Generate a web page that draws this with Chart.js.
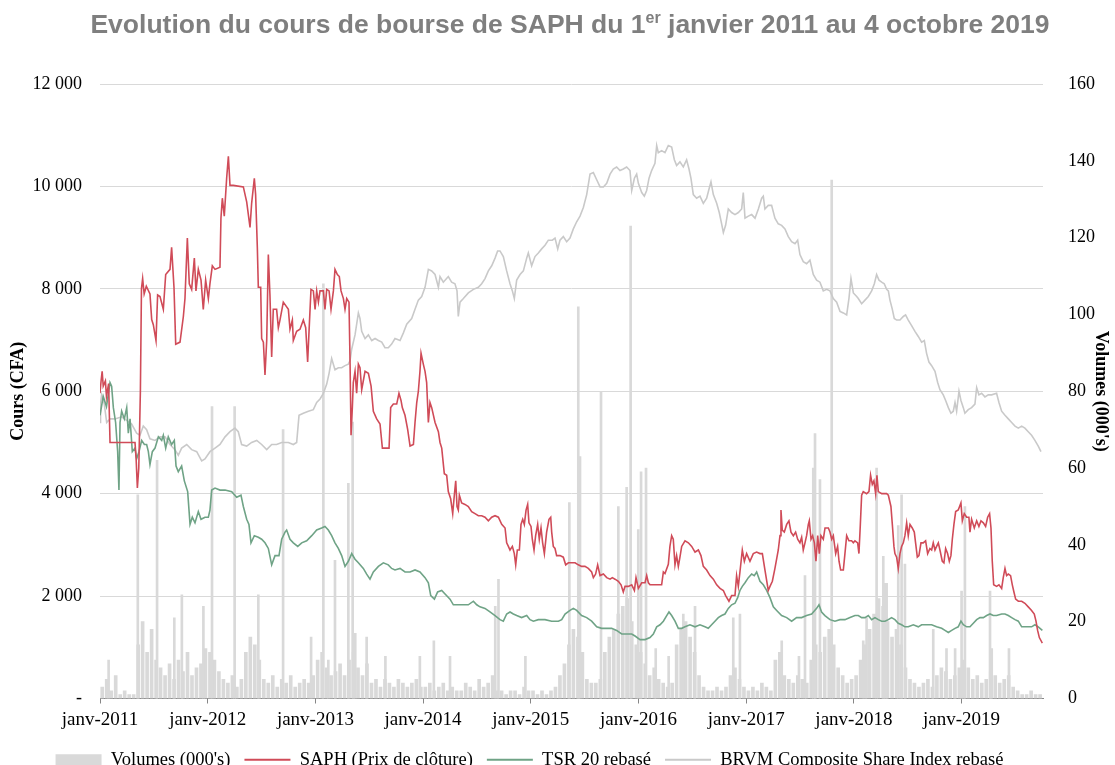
<!DOCTYPE html>
<html lang="fr">
<head>
<meta charset="UTF-8">
<title>Evolution du cours de bourse de SAPH</title>
<script src="https://cdn.jsdelivr.net/npm/chart.js"></script>
<style>
    body { margin: 0; background: #fff; }
    #wrap { position: relative; width: 1115px; height: 765px; }
    #title {
        position: absolute; left: 0; top: 10px; width: 1140px; text-align: center;
        font: bold 26.5px "Liberation Sans", Arial, sans-serif; color: #7f7f7f; line-height: 28px;
    }
    #title sup { font-size: 16px; line-height: 0; }
</style>
</head>
<body>
<div id="wrap">
    <canvas id="chart" width="1115" height="765"></canvas>
    <div id="title">Evolution du cours de bourse de SAPH du 1<sup>er</sup> janvier 2011 au 4 octobre 2019</div>
</div>

<script>
    // dates are decimal years (2011.0 = 1 Jan 2011)
    const yearTicks = ['janv-2011', 'janv-2012', 'janv-2013', 'janv-2014', 'janv-2015', 'janv-2016', 'janv-2017', 'janv-2018', 'janv-2019'];

    // SAPH closing price (CFA)
    const saphPrices = [
        [2011.00,5960],[2011.01,6200],[2011.02,6390],[2011.03,6100],[2011.05,6200],[2011.06,5900],[2011.08,6150],[2011.093,5000],
        [2011.325,5000],[2011.335,4700],[2011.347,4110],[2011.36,4500],[2011.365,5000],[2011.375,6000],[2011.385,8000],[2011.396,8200],
        [2011.41,7900],[2011.43,8050],[2011.464,7900],[2011.48,7400],[2011.495,7300],[2011.52,6990],[2011.535,7880],[2011.557,7850],
        [2011.588,7600],[2011.61,8280],[2011.65,8380],[2011.665,8810],[2011.687,8030],[2011.703,6920],[2011.743,6960],[2011.774,7460],
        [2011.789,7810],[2011.811,8990],[2011.829,8100],[2011.851,7990],[2011.876,8600],[2011.891,7960],[2011.913,8380],[2011.938,8170],
        [2011.959,7600],[2011.981,8170],[2012.006,7810],[2012.021,8100],[2012.043,8450],[2012.068,8380],[2012.114,8420],[2012.123,9380],
        [2012.136,9770],[2012.154,9420],[2012.176,10160],[2012.192,10590],[2012.207,10020],[2012.238,10020],[2012.331,9990],[2012.362,9700],
        [2012.393,9200],[2012.408,9670],[2012.433,10160],[2012.445,9840],[2012.461,8800],[2012.47,8030],[2012.492,8030],[2012.501,7030],
        [2012.517,6960],[2012.532,6320],[2012.548,6990],[2012.563,8670],[2012.578,7880],[2012.594,6670],[2012.609,7600],[2012.64,7600],
        [2012.656,7240],[2012.671,7390],[2012.702,7740],[2012.749,7600],[2012.764,7210],[2012.786,7390],[2012.795,6990],[2012.826,7170],
        [2012.857,7210],[2012.888,7390],[2012.91,7240],[2012.928,6570],[2012.941,7170],[2012.959,7990],[2012.981,7960],[2012.997,7600],
        [2013.012,7960],[2013.028,7740],[2013.043,7960],[2013.074,7960],[2013.089,7600],[2013.105,7990],[2013.127,7960],[2013.145,7600],
        [2013.167,7960],[2013.182,8380],[2013.204,8280],[2013.222,8240],[2013.238,7960],[2013.26,7810],[2013.275,7600],[2013.291,7810],
        [2013.312,7740],[2013.322,6530],[2013.331,5140],[2013.343,5680],[2013.352,6170],[2013.368,6390],[2013.383,5960],[2013.399,6530],
        [2013.414,6460],[2013.43,6030],[2013.461,6390],[2013.492,6350],[2013.517,6100],[2013.538,5610],[2013.569,5460],[2013.6,5360],
        [2013.622,4890],[2013.646,4890],[2013.684,4890],[2013.699,5680],[2013.724,5750],[2013.755,5750],[2013.776,5960],[2013.795,5820],
        [2013.807,5680],[2013.832,5530],[2013.857,5250],[2013.879,4930],[2013.91,4960],[2013.925,5390],[2013.941,5780],[2013.956,6000],
        [2013.971,6390],[2013.981,6740],[2014.002,6530],[2014.018,6390],[2014.033,6170],[2014.049,5390],[2014.064,5780],[2014.08,5680],
        [2014.111,5390],[2014.142,5210],[2014.157,5000],[2014.173,4890],[2014.197,4390],[2014.219,4360],[2014.234,4040],[2014.256,3900],
        [2014.275,3610],[2014.29,3970],[2014.303,4250],[2014.315,3750],[2014.327,3680],[2014.337,3970],[2014.358,3820],[2014.389,3790],
        [2014.42,3750],[2014.451,3650],[2014.482,3610],[2014.513,3570],[2014.544,3570],[2014.575,3540],[2014.606,3470],[2014.637,3540],
        [2014.668,3570],[2014.699,3540],[2014.73,3400],[2014.761,3330],[2014.776,3040],[2014.792,2970],[2014.807,2900],[2014.829,2970],
        [2014.847,2830],[2014.86,2610],[2014.875,2900],[2014.894,2900],[2014.909,3400],[2014.925,3500],[2014.94,3400],[2014.956,3680],
        [2014.971,3790],[2014.983,3430],[2015.002,3360],[2015.014,3110],[2015.03,2900],[2015.045,3180],[2015.064,3400],[2015.079,3110],
        [2015.095,3330],[2015.11,3040],[2015.126,2830],[2015.147,3250],[2015.169,3500],[2015.185,3540],[2015.194,3250],[2015.209,2970],
        [2015.225,2930],[2015.24,2790],[2015.271,2790],[2015.302,2760],[2015.324,2610],[2015.349,2650],[2015.38,2650],[2015.411,2650],
        [2015.441,2610],[2015.472,2580],[2015.503,2580],[2015.534,2540],[2015.565,2470],[2015.581,2360],[2015.602,2430],[2015.621,2610],
        [2015.643,2400],[2015.674,2430],[2015.705,2360],[2015.736,2330],[2015.757,2360],[2015.782,2330],[2015.813,2290],[2015.838,2220],
        [2015.859,2080],[2015.875,2190],[2015.906,2190],[2015.937,2220],[2015.962,2110],[2015.977,2360],[2015.999,2150],[2016.03,2260],
        [2016.061,2260],[2016.076,2400],[2016.092,2260],[2016.107,2220],[2016.138,2220],[2016.169,2220],[2016.215,2220],[2016.231,2470],
        [2016.246,2440],[2016.277,2620],[2016.292,2970],[2016.308,3180],[2016.323,3110],[2016.339,2610],[2016.354,2790],[2016.37,2580],
        [2016.385,2760],[2016.401,2970],[2016.432,3080],[2016.463,3040],[2016.494,2970],[2016.525,2860],[2016.556,2900],[2016.58,2790],
        [2016.602,2580],[2016.633,2510],[2016.664,2400],[2016.695,2330],[2016.726,2220],[2016.757,2150],[2016.788,2110],[2016.809,2010],
        [2016.84,1900],[2016.865,2010],[2016.896,2010],[2016.911,2400],[2016.927,2190],[2016.942,2470],[2016.964,2900],[2016.983,2680],
        [2017.004,2830],[2017.035,2680],[2017.066,2830],[2017.097,2860],[2017.128,2830],[2017.15,2830],[2017.174,2510],[2017.205,2110],
        [2017.221,2190],[2017.243,2290],[2017.267,2540],[2017.298,2900],[2017.314,3180],[2017.323,3680],[2017.335,3290],[2017.354,3250],
        [2017.376,3400],[2017.397,3470],[2017.416,3250],[2017.438,3180],[2017.459,3250],[2017.478,3110],[2017.499,3040],[2017.515,3150],
        [2017.53,2900],[2017.546,3040],[2017.561,3180],[2017.577,3400],[2017.586,3470],[2017.602,3110],[2017.617,3180],[2017.633,3040],
        [2017.648,2680],[2017.664,3180],[2017.679,2830],[2017.694,3180],[2017.716,3110],[2017.732,3330],[2017.763,3330],[2017.778,3250],
        [2017.794,3110],[2017.809,3180],[2017.831,2830],[2017.849,2970],[2017.862,2680],[2017.877,2510],[2017.902,2510],[2017.917,2830],
        [2017.933,3180],[2017.954,3080],[2017.979,3080],[2017.995,3040],[2018.01,3080],[2018.035,3040],[2018.047,2830],[2018.06,3400],
        [2018.072,3970],[2018.087,4040],[2018.118,4000],[2018.14,4040],[2018.155,4360],[2018.171,4180],[2018.186,4250],[2018.202,4000],
        [2018.214,4360],[2018.227,4040],[2018.258,4000],[2018.304,4000],[2018.32,3970],[2018.344,3750],[2018.357,3400],[2018.372,2970],
        [2018.381,2830],[2018.397,2760],[2018.412,2540],[2018.428,2830],[2018.443,2970],[2018.459,3040],[2018.474,3180],[2018.49,3430],
        [2018.505,3180],[2018.521,3400],[2018.542,3330],[2018.561,3250],[2018.573,3040],[2018.589,2760],[2018.604,2790],[2018.623,3040],
        [2018.644,3040],[2018.666,3080],[2018.685,2830],[2018.706,2930],[2018.722,2900],[2018.737,3040],[2018.753,2900],[2018.768,2970],
        [2018.784,3040],[2018.799,2900],[2018.821,2680],[2018.836,2650],[2018.852,2930],[2018.87,2830],[2018.886,2680],[2018.901,2790],
        [2018.914,3110],[2018.929,3400],[2018.945,3650],[2018.969,3680],[2018.994,3820],[2019.007,3470],[2019.025,3610],[2019.047,3540],
        [2019.068,3540],[2019.078,3250],[2019.093,3500],[2019.118,3330],[2019.14,3470],[2019.161,3360],[2019.18,3470],[2019.202,3430],
        [2019.223,3360],[2019.242,3540],[2019.26,3610],[2019.273,3330],[2019.285,2680],[2019.298,2220],[2019.325,2190],[2019.347,2220],
        [2019.372,2150],[2019.387,2360],[2019.403,2540],[2019.418,2400],[2019.434,2430],[2019.455,2400],[2019.471,2220],[2019.486,2080],
        [2019.502,1940],[2019.527,1900],[2019.558,1900],[2019.588,1860],[2019.619,1790],[2019.65,1720],[2019.675,1650],[2019.691,1510],
        [2019.706,1330],[2019.722,1190],[2019.75,1080]
    ];

    // TSR 20 rebased on SAPH
    const tsrRebased = [
        [2011.00,5530],[2011.03,5900],[2011.06,5700],[2011.093,6170],[2011.108,6100],[2011.124,5680],[2011.145,5390],[2011.164,4820],
        [2011.176,4070],[2011.186,5390],[2011.201,5610],[2011.226,5460],[2011.248,5680],[2011.263,5180],[2011.279,5460],[2011.30,4820],
        [2011.325,4890],[2011.34,4680],[2011.362,4820],[2011.387,5040],[2011.412,4960],[2011.433,4960],[2011.449,4820],[2011.464,4570],
        [2011.486,4820],[2011.511,4890],[2011.542,5110],[2011.573,5040],[2011.588,5140],[2011.61,4890],[2011.634,5110],[2011.665,4960],
        [2011.69,5040],[2011.706,4540],[2011.727,4430],[2011.758,4540],[2011.783,4250],[2011.814,4040],[2011.836,3400],[2011.857,3540],
        [2011.882,3430],[2011.913,3650],[2011.938,3500],[2011.975,3540],[2012.006,3540],[2012.021,3680],[2012.037,4070],[2012.068,4110],
        [2012.114,4070],[2012.161,4070],[2012.223,4040],[2012.269,3930],[2012.309,3970],[2012.331,3750],[2012.362,3500],[2012.383,3400],
        [2012.402,3040],[2012.433,3180],[2012.47,3150],[2012.501,3110],[2012.532,3040],[2012.563,2930],[2012.594,2610],[2012.625,2790],
        [2012.662,2790],[2012.687,3110],[2012.718,3250],[2012.733,3290],[2012.764,3110],[2012.795,3040],[2012.836,2970],[2012.873,3040],
        [2012.919,3080],[2012.966,3180],[2013.012,3290],[2013.058,3330],[2013.089,3360],[2013.12,3290],[2013.151,3180],[2013.182,3040],
        [2013.213,2930],[2013.244,2790],[2013.275,2580],[2013.306,2680],[2013.337,2830],[2013.368,2720],[2013.399,2650],[2013.445,2540],
        [2013.476,2430],[2013.507,2330],[2013.538,2470],[2013.585,2580],[2013.631,2650],[2013.677,2610],[2013.708,2540],[2013.739,2510],
        [2013.786,2540],[2013.832,2470],[2013.879,2470],[2013.925,2510],[2013.971,2470],[2014.018,2360],[2014.049,2260],[2014.071,2010],
        [2014.105,1940],[2014.135,2080],[2014.173,2110],[2014.204,2040],[2014.25,1940],[2014.281,1830],[2014.327,1830],[2014.374,1830],
        [2014.42,1830],[2014.467,1900],[2014.498,1830],[2014.528,1790],[2014.575,1760],[2014.621,1690],[2014.668,1620],[2014.714,1540],
        [2014.745,1510],[2014.776,1650],[2014.807,1690],[2014.838,1650],[2014.869,1620],[2014.915,1580],[2014.962,1620],[2014.993,1540],
        [2015.024,1510],[2015.07,1540],[2015.132,1540],[2015.194,1510],[2015.256,1510],[2015.287,1540],[2015.318,1650],[2015.364,1720],
        [2015.395,1760],[2015.426,1720],[2015.472,1620],[2015.519,1580],[2015.565,1510],[2015.612,1400],[2015.658,1370],[2015.705,1370],
        [2015.751,1370],[2015.797,1330],[2015.844,1260],[2015.89,1260],[2015.937,1260],[2015.968,1220],[2016.014,1150],[2016.061,1150],
        [2016.107,1190],[2016.138,1260],[2016.169,1400],[2016.2,1440],[2016.231,1510],[2016.262,1620],[2016.283,1690],[2016.308,1620],
        [2016.339,1510],[2016.37,1370],[2016.401,1370],[2016.432,1400],[2016.478,1440],[2016.525,1400],[2016.571,1440],[2016.617,1400],
        [2016.648,1370],[2016.679,1440],[2016.71,1510],[2016.741,1580],[2016.772,1620],[2016.803,1650],[2016.834,1760],[2016.865,1830],
        [2016.896,1860],[2016.921,1970],[2016.942,2110],[2016.964,2190],[2016.989,2260],[2017.02,2360],[2017.051,2430],[2017.075,2400],
        [2017.097,2470],[2017.128,2290],[2017.159,2220],[2017.19,2110],[2017.221,1970],[2017.252,1790],[2017.283,1720],[2017.329,1620],
        [2017.376,1580],[2017.422,1510],[2017.468,1580],[2017.515,1580],[2017.561,1620],[2017.608,1650],[2017.654,1760],[2017.676,1830],
        [2017.70,1690],[2017.731,1620],[2017.778,1540],[2017.824,1510],[2017.871,1540],[2017.917,1540],[2017.964,1580],[2018.01,1620],
        [2018.041,1620],[2018.072,1580],[2018.103,1580],[2018.134,1620],[2018.165,1540],[2018.196,1580],[2018.227,1540],[2018.258,1510],
        [2018.289,1510],[2018.32,1540],[2018.35,1580],[2018.381,1540],[2018.412,1470],[2018.443,1440],[2018.474,1400],[2018.505,1400],
        [2018.552,1440],[2018.598,1400],[2018.629,1440],[2018.675,1440],[2018.722,1440],[2018.768,1400],[2018.815,1370],[2018.846,1330],
        [2018.877,1290],[2018.908,1330],[2018.939,1370],[2018.969,1400],[2018.994,1510],[2019.016,1440],[2019.047,1400],[2019.078,1400],
        [2019.109,1470],[2019.14,1540],[2019.171,1580],[2019.202,1580],[2019.233,1620],[2019.264,1650],[2019.294,1620],[2019.325,1620],
        [2019.372,1650],[2019.403,1650],[2019.434,1620],[2019.465,1580],[2019.496,1540],[2019.527,1510],[2019.558,1400],[2019.604,1400],
        [2019.65,1400],[2019.681,1440],[2019.712,1400],[2019.75,1330]
    ];

    // BRVM Composite rebased on SAPH
    const brvmRebased = [
        [2011.00,5390],[2011.005,5750],[2011.015,5930],[2011.04,5750],[2011.062,5390],[2011.093,5460],[2011.139,5460],[2011.201,5500],
        [2011.248,5430],[2011.294,5360],[2011.34,5180],[2011.371,5140],[2011.402,5320],[2011.433,5250],[2011.464,5070],[2011.511,5040],
        [2011.557,5110],[2011.604,5110],[2011.65,4960],[2011.696,4860],[2011.727,4750],[2011.758,4890],[2011.805,4960],[2011.851,4860],
        [2011.898,4820],[2011.944,4640],[2011.975,4680],[2012.021,4820],[2012.068,4890],[2012.114,4960],[2012.161,5110],[2012.207,5210],
        [2012.253,5280],[2012.284,5210],[2012.315,4960],[2012.362,4930],[2012.408,5000],[2012.455,5040],[2012.501,4960],[2012.548,4860],
        [2012.594,4960],[2012.64,4960],[2012.687,5000],[2012.749,5000],[2012.795,4960],[2012.826,5000],[2012.848,5530],[2012.888,5570],
        [2012.935,5610],[2012.981,5640],[2013.012,5780],[2013.043,5850],[2013.074,5960],[2013.105,6140],[2013.127,6350],[2013.151,6640],
        [2013.182,6420],[2013.213,6460],[2013.244,6460],[2013.275,6500],[2013.306,6530],[2013.322,6600],[2013.337,6820],[2013.368,7100],
        [2013.399,7530],[2013.414,7420],[2013.43,7170],[2013.461,7030],[2013.492,7100],[2013.523,6990],[2013.554,7030],[2013.585,6990],
        [2013.616,6960],[2013.646,6850],[2013.677,6850],[2013.708,6920],[2013.739,7030],[2013.786,6990],[2013.817,7140],[2013.848,7310],
        [2013.894,7420],[2013.925,7600],[2013.956,7780],[2013.987,7850],[2014.018,8030],[2014.049,8380],[2014.08,8350],[2014.111,8280],
        [2014.142,8030],[2014.157,8240],[2014.188,8130],[2014.234,8240],[2014.265,8130],[2014.296,8100],[2014.315,7960],[2014.327,7460],
        [2014.343,7740],[2014.374,7810],[2014.42,7920],[2014.467,7990],[2014.513,8030],[2014.544,8100],[2014.575,8200],[2014.606,8350],
        [2014.637,8450],[2014.668,8600],[2014.692,8740],[2014.714,8740],[2014.745,8630],[2014.776,8350],[2014.807,8100],[2014.829,7960],
        [2014.847,7810],[2014.869,8170],[2014.9,8280],[2014.931,8350],[2014.962,8600],[2014.977,8700],[2015.008,8450],[2015.039,8630],
        [2015.07,8700],[2015.101,8780],[2015.132,8850],[2015.163,8950],[2015.20,8950],[2015.225,8990],[2015.25,8780],[2015.271,8950],
        [2015.302,9020],[2015.333,8920],[2015.364,8990],[2015.395,9170],[2015.426,9310],[2015.457,9420],[2015.488,9590],[2015.519,9840],
        [2015.55,10240],[2015.581,10270],[2015.612,10130],[2015.643,9990],[2015.674,9990],[2015.705,10060],[2015.736,10240],[2015.766,10340],
        [2015.797,10380],[2015.828,10310],[2015.859,10340],[2015.89,10380],[2015.921,10310],[2015.937,9920],[2015.962,10160],[2015.983,10240],
        [2015.999,10060],[2016.03,9880],[2016.054,9810],[2016.076,9920],[2016.098,10160],[2016.122,10310],[2016.153,10450],[2016.169,10800],
        [2016.184,10660],[2016.215,10700],[2016.246,10660],[2016.277,10800],[2016.308,10770],[2016.333,10520],[2016.354,10410],[2016.385,10480],
        [2016.416,10380],[2016.447,10520],[2016.469,10340],[2016.487,10160],[2016.509,9840],[2016.54,9770],[2016.571,9810],[2016.602,9670],
        [2016.633,9770],[2016.655,9950],[2016.673,10090],[2016.695,9840],[2016.726,9670],[2016.75,9490],[2016.772,9270],[2016.788,9100],
        [2016.809,9240],[2016.834,9560],[2016.865,9490],[2016.896,9450],[2016.927,9490],[2016.958,9560],[2016.973,9880],[2016.989,9380],
        [2017.02,9420],[2017.051,9450],[2017.082,9380],[2017.113,9560],[2017.144,9770],[2017.159,9810],[2017.174,9560],[2017.205,9630],
        [2017.236,9630],[2017.267,9380],[2017.298,9270],[2017.329,9240],[2017.36,9170],[2017.391,9020],[2017.422,8920],[2017.453,8880],
        [2017.478,8950],[2017.499,8670],[2017.53,8530],[2017.561,8490],[2017.592,8560],[2017.623,8280],[2017.654,8170],[2017.685,8130],
        [2017.716,7960],[2017.747,7990],[2017.778,7960],[2017.809,7810],[2017.84,7740],[2017.871,7560],[2017.902,7530],[2017.933,7490],
        [2017.954,7810],[2017.973,8200],[2017.995,7920],[2018.026,7850],[2018.041,7810],[2018.072,7710],[2018.103,7780],[2018.134,7850],
        [2018.165,7960],[2018.19,8100],[2018.211,8280],[2018.233,8170],[2018.258,8130],[2018.282,8100],[2018.304,7990],[2018.32,7960],
        [2018.335,7780],[2018.357,7600],[2018.375,7420],[2018.397,7390],[2018.428,7390],[2018.459,7460],[2018.48,7490],[2018.505,7390],
        [2018.536,7280],[2018.567,7170],[2018.598,7070],[2018.629,6960],[2018.654,6990],[2018.675,6740],[2018.697,6570],[2018.722,6500],
        [2018.753,6390],[2018.778,6170],[2018.799,6030],[2018.83,5930],[2018.852,5820],[2018.877,5680],[2018.901,5570],[2018.923,5610],
        [2018.939,5780],[2018.954,5610],[2018.976,6000],[2018.994,5820],[2019.016,5680],[2019.031,5570],[2019.062,5640],[2019.093,5680],
        [2019.124,5750],[2019.14,6070],[2019.161,5930],[2019.186,5960],[2019.217,5890],[2019.248,5930],[2019.279,5930],[2019.325,5960],
        [2019.347,5780],[2019.372,5610],[2019.403,5530],[2019.434,5460],[2019.465,5390],[2019.496,5320],[2019.527,5280],[2019.558,5320],
        [2019.588,5280],[2019.619,5210],[2019.65,5140],[2019.681,5040],[2019.712,4930],[2019.737,4820]
    ];

    // traded volumes (000's), background level per half-month from janv-2011
    const volumeBase = [
        3,5,2,6,1,2,1,1,14,20,12,18,10,8,6,9,5,10,7,12,6,8,9,13,
        12,10,7,5,4,6,3,5,12,16,14,10,5,4,6,3,5,4,6,3,4,5,4,6,
        10,12,8,6,7,9,6,10,12,8,6,9,4,5,3,5,4,3,5,4,3,4,5,3,
        3,4,2,3,4,2,3,2,2,4,3,2,5,3,4,6,2,2,1,2,2,1,3,2,
        2,1,2,1,2,3,6,9,14,18,16,12,5,4,4,5,12,16,18,22,24,26,20,14,
        12,9,6,8,5,4,3,4,14,18,20,16,12,6,3,2,2,3,2,3,6,8,5,3,
        2,3,2,4,3,2,10,12,6,5,4,6,5,4,10,14,12,16,18,14,8,6,4,5,
        6,10,14,18,22,26,24,20,16,18,14,8,5,4,3,4,5,3,6,8,7,5,6,8,
        10,8,5,6,4,5,7,6,4,5,6,3,2,1,1,2,1,1
    ];
    // single-day volume peaks (000's)
    const volumeSpikes = [
        [2011.08,10],[2011.351,53],[2011.53,62],[2011.69,21],[2011.76,27],[2011.96,24],[2012.04,76],[2012.25,76],[2012.47,27],[2012.70,70],
        [2012.96,16],[2013.074,108],[2013.12,10],[2013.182,36],[2013.306,56],[2013.346,72],[2013.37,17],[2013.476,16],[2013.65,11],[2013.97,11],
        [2014.10,15],[2014.25,11],[2014.67,24],[2014.70,31],[2014.95,11],[2015.358,51],[2015.441,102],[2015.457,63],[2015.652,80],[2015.813,50],
        [2015.89,55],[2015.927,123],[2015.998,44],[2016.024,59],[2016.07,60],[2016.16,13],[2016.28,11],[2016.416,22],[2016.525,24],[2016.88,21],
        [2016.942,22],[2017.33,15],[2017.49,11],[2017.546,32],[2017.623,60],[2017.639,69],[2017.685,57],[2017.794,135],[2018.087,15],[2018.118,21],
        [2018.211,60],[2018.273,37],[2018.29,30],[2018.304,30],[2018.412,45],[2018.443,53],[2018.474,35],[2018.737,18],[2018.86,13],[2018.94,13],
        [2019.0,28],[2019.031,50],[2019.264,28],[2019.28,13],[2019.44,13]
    ];

    const serif = '"Liberation Serif", "Times New Roman", serif';
    const toPoints = list => list.map(p => ({x: p[0], y: p[1]}));
    const spaced = v => v === 0 ? '-' : String(v).replace(/\B(?=(\d{3})+(?!\d))/g, ' ');

    const volumeBasePoints = volumeBase.map((v, i) => ({x: 2011 + (i + 0.5) / 24, y: v}));

    // push the centred legend a little to the left, like the original
    const legendShift = {
        id: 'legendShift',
        afterLayout(chart) {
            chart.legend.right -= 56;
        }
    };

    new Chart(document.getElementById('chart'), {
        data: {
            datasets: [
                {
                    type: 'bar', label: 'Volumes (000\'s)', data: volumeBasePoints, yAxisID: 'y1',
                    backgroundColor: '#d9d9d9', barThickness: 3, grouped: false, order: 5
                },
                {
                    type: 'bar', label: 'spikes', data: toPoints(volumeSpikes), yAxisID: 'y1',
                    backgroundColor: '#d9d9d9', barThickness: 2, grouped: false, order: 4
                },
                {
                    type: 'line', label: 'SAPH (Prix de clôture)', data: toPoints(saphPrices), yAxisID: 'y',
                    borderColor: '#d04b58', backgroundColor: '#d04b58', borderWidth: 1.6, pointRadius: 0, order: 1
                },
                {
                    type: 'line', label: 'TSR 20 rebasé', data: toPoints(tsrRebased), yAxisID: 'y',
                    borderColor: '#6fa386', backgroundColor: '#6fa386', borderWidth: 1.6, pointRadius: 0, order: 2
                },
                {
                    type: 'line', label: 'BRVM Composite Share Index rebasé', data: toPoints(brvmRebased), yAxisID: 'y',
                    borderColor: '#c9c9c9', backgroundColor: '#c9c9c9', borderWidth: 1.6, pointRadius: 0, order: 3
                }
            ]
        },
        options: {
            responsive: false,
            animation: false,
            devicePixelRatio: 1,
            layout: { padding: { top: 84, left: 0, right: 0, bottom: -14 } },
            scales: {
                x: {
                    type: 'linear',
                    offset: false,
                    min: 2011,
                    max: 2019.756,
                    afterFit: s => { s.height = 38; },
                    grid: { display: true, drawOnChartArea: false, drawTicks: true, tickLength: 5, offset: false, color: '#868686' },
                    border: { display: true, color: '#868686', width: 1 },
                    ticks: {
                        stepSize: 1,
                        includeBounds: false,
                        autoSkip: false,
                        maxRotation: 0,
                        padding: 5,
                        color: '#000',
                        font: { family: serif, size: 19 },
                        callback: v => yearTicks[v - 2011]
                    }
                },
                y: {
                    position: 'left',
                    min: 0,
                    max: 12000,
                    afterFit: s => { s.width = 100; },
                    grid: { color: '#d9d9d9', drawTicks: false },
                    border: { display: false },
                    ticks: { stepSize: 2000, padding: 18, color: '#000', font: { family: serif, size: 18 }, callback: spaced },
                    title: {
                        display: true, text: 'Cours (CFA)', color: '#000',
                        font: { family: serif, size: 18, weight: 'bold' }, padding: { top: 8, bottom: 0 }
                    }
                },
                y1: {
                    position: 'right',
                    min: 0,
                    max: 160,
                    afterFit: s => { s.width = 72; },
                    grid: { display: false },
                    border: { display: false },
                    ticks: { stepSize: 20, padding: 17, color: '#000', font: { family: serif, size: 18 } },
                    title: {
                        display: true, text: 'Volumes (000\'s)', color: '#000',
                        font: { family: serif, size: 18, weight: 'bold' }, padding: { top: 4, bottom: 0 }
                    }
                }
            },
            plugins: {
                title: { display: false },
                tooltip: { enabled: false },
                legend: {
                    position: 'bottom',
                    labels: {
                        color: '#000',
                        font: { family: serif, size: 18.5 },
                        padding: 14,
                        usePointStyle: true,
                        pointStyleWidth: 46,
                        boxHeight: 11,
                        generateLabels: chart => chart.data.datasets
                            .map((ds, i) => ({
                                text: ds.label,
                                fillStyle: ds.backgroundColor,
                                strokeStyle: ds.type === 'bar' ? ds.backgroundColor : ds.borderColor,
                                lineWidth: ds.type === 'bar' ? 0 : 2,
                                pointStyle: ds.type === 'bar' ? 'rect' : 'line',
                                fontColor: '#000',
                                hidden: false,
                                datasetIndex: i
                            }))
                            .filter(item => item.text !== 'spikes')
                    }
                }
            }
        },
        plugins: [legendShift]
    });
</script>
</body>
</html>
